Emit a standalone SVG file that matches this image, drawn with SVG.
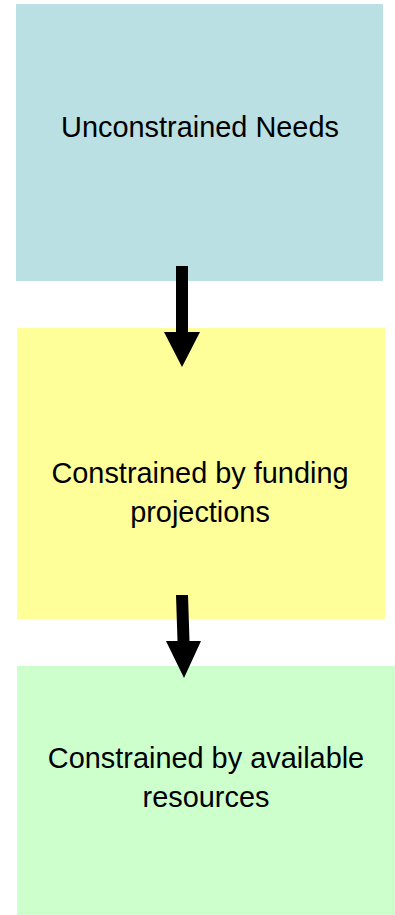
<svg xmlns="http://www.w3.org/2000/svg" width="395" height="915" viewBox="0 0 395 915">
<style>
.lbl{font-family:"Liberation Sans",Arial,sans-serif;font-size:28.9px;fill:#000;text-anchor:middle}
.arr{fill:#000}
</style>
<rect width="395" height="915" fill="#fff"/>
<g id="node-unconstrained">
<rect x="16" y="4" width="367" height="277" fill="#bbe0e3"/>
<text class="lbl" x="200" y="137">Unconstrained Needs</text>
</g>
<g id="node-funding">
<rect x="17" y="328" width="368" height="291" fill="#ffff99"/>
<text class="lbl" x="200" y="483">Constrained by funding</text>
<text class="lbl" x="200" y="522">projections</text>
</g>
<g id="node-resources">
<rect x="17" y="666" width="378" height="249" fill="#ccffcc"/>
<text class="lbl" x="206" y="768">Constrained by available</text>
<text class="lbl" x="206" y="807">resources</text>
</g>
<g id="connectors">
<polygon class="arr" points="176,266 188,266 188,332 200,332 182,367 164,332 176,332"/>
<polygon class="arr" points="176,595 188,595 189.5,641 201,641 184,678 166,641 177.5,641"/>
</g>
</svg>
